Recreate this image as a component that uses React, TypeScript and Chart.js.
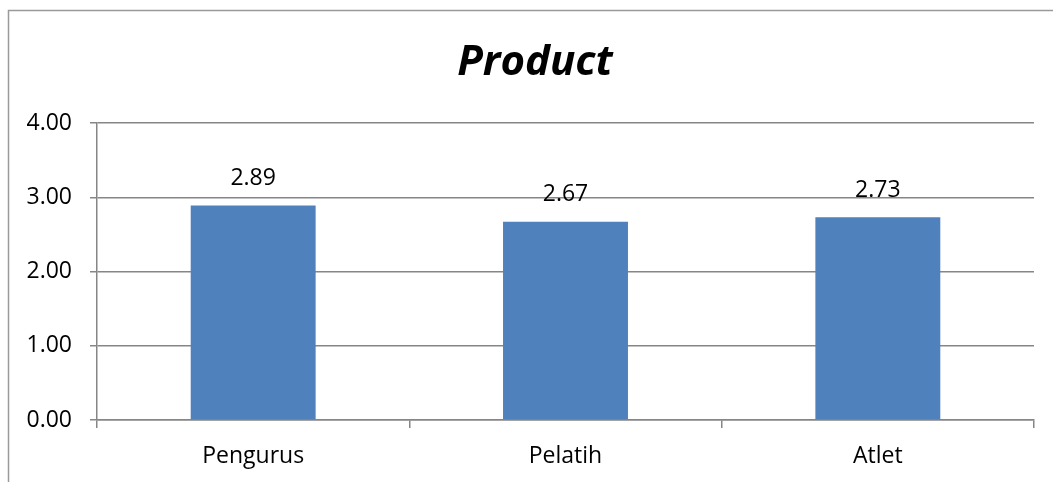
import React, { useEffect, useRef } from "react";
import { Chart, registerables } from "chart.js";

Chart.register(...registerables);

const categories = ["Pengurus", "Pelatih", "Atlet"];
const values = [2.89, 2.67, 2.73];
const yTicks = [0, 1, 2, 3, 4];
const titleText = "Product";

const FONT = "'Open Sans', 'Noto Sans', sans-serif";

const framePlugin = {
  id: "frame",
  beforeDraw(chart: any) {
    const ctx = chart.ctx;
    ctx.save();
    ctx.fillStyle = "#ffffff";
    ctx.fillRect(0, 0, chart.width, chart.height);
    ctx.strokeStyle = "#9a9a9a";
    ctx.lineWidth = 1.5;
    ctx.beginPath();
    ctx.moveTo(8.5, chart.height + 5);
    ctx.lineTo(8.5, 10.5);
    ctx.lineTo(chart.width + 5, 10.5);
    ctx.stroke();
    // title
    ctx.fillStyle = "#000000";
    ctx.font = `italic bold 42px ${FONT}`;
    ctx.textAlign = "center";
    ctx.textBaseline = "middle";
    ctx.fillText(titleText, 535, 63);
    ctx.restore();
  },
  afterDatasetsDraw(chart: any) {
    const ctx = chart.ctx;
    const meta = chart.getDatasetMeta(0);
    ctx.save();
    ctx.fillStyle = "#000000";
    ctx.font = `23px ${FONT}`;
    ctx.textAlign = "center";
    ctx.textBaseline = "middle";
    meta.data.forEach((bar: any, i: number) => {
      ctx.fillText(values[i].toFixed(2), bar.x, bar.y - 27);
    });
    ctx.restore();
  },
};

export default function App() {
  const ref = useRef<HTMLCanvasElement | null>(null);
  useEffect(() => {
    if (!ref.current) return;
    const chart = new Chart(ref.current, {
      type: "bar",
      data: {
        labels: categories,
        datasets: [
          {
            data: values,
            backgroundColor: "#4F81BD",
            borderWidth: 0,
            categoryPercentage: 0.4,
            barPercentage: 1.0,
          },
        ],
      },
      options: {
        animation: false,
        responsive: false,
        maintainAspectRatio: false,
        layout: { padding: { left: 0, top: 123, right: 19, bottom: 0 } },
        plugins: {
          legend: { display: false },
          title: { display: false },
          tooltip: { enabled: false },
        },
        scales: {
          x: {
            afterFit: (s: any) => {
              s.height = 62;
            },
            grid: {
              offset: true,
              drawOnChartArea: false,
              drawTicks: true,
              tickLength: 8,
              color: "#868686",
              lineWidth: 1.5,
            },
            border: { display: true, color: "#868686", width: 1.5 },
            ticks: {
              color: "#000000",
              font: { family: FONT, size: 23 },
              padding: 15,
            },
          },
          y: {
            min: 0,
            max: 4,
            afterFit: (s: any) => {
              s.width = 97;
            },
            afterBuildTicks: (s: any) => {
              s.ticks = yTicks.map((v) => ({ value: v }));
            },
            grid: {
              color: "#868686",
              lineWidth: 1.5,
              tickLength: 7,
              drawTicks: true,
            },
            border: { display: true, color: "#868686", width: 1.5 },
            ticks: {
              color: "#000000",
              font: { family: FONT, size: 23 },
              padding: 18,
              callback: (v: any) => Number(v).toFixed(2),
            },
          },
        },
      },
      plugins: [framePlugin],
    });
    return () => chart.destroy();
  }, []);
  return (
    <div style={{ position: "fixed", left: 0, top: 0, width: 1053, height: 482 }}>
      <canvas ref={ref} width={1053} height={482} style={{ display: "block" }} />
    </div>
  );
}
